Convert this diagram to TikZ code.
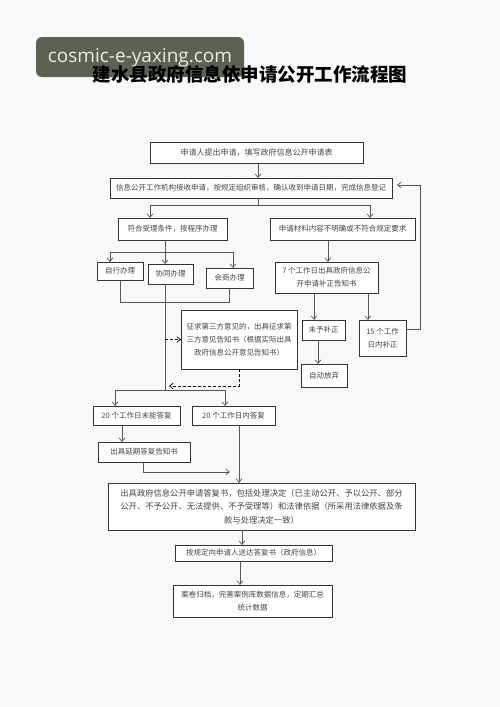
\documentclass[tikz,border=0pt]{standalone}
\usepackage{fontspec}
\newfontfamily\cjk{Noto Sans CJK SC}
\newfontfamily\wmfont{Open Sans}
\usetikzlibrary{arrows.meta}

\definecolor{pagebg}{HTML}{F6F8F9}
\definecolor{boxline}{HTML}{333333}
\definecolor{conline}{HTML}{555555}
\definecolor{boxtext}{HTML}{444444}
\definecolor{wmbg}{HTML}{5A6352}
\definecolor{wmtext}{HTML}{EEEBDD}

\tikzset{
  stage/.style={draw=boxline, line width=1pt, fill=white, text=boxtext,
    font=\cjk\fontsize{7.5}{13}\selectfont, align=center, inner sep=0pt, outer sep=0pt},
  link/.style={draw=conline, line width=0.7pt},
  arr/.style={link, -{Straight Barb[length=3.5pt,width=5.5pt]}},
  darr/.style={arr, draw=black, densely dashed}
}

\begin{document}
\begin{tikzpicture}[x=1pt,y=-1pt]

  % page
  \fill[pagebg] (0,0) rectangle (500,707);
  \useasboundingbox (0,0) rectangle (500,707);

  % Title and watermark
  \fill[wmbg, rounded corners=6pt] (36,37) rectangle (244,77);
  \node (title) at (250,74) {\cjk\bfseries\fontsize{18.5}{20}\selectfont 建水县政府信息依申请公开工作流程图};
  \node[text=wmtext] (mark) at (140,58) {\wmfont\fontsize{19}{21}\selectfont cosmic-e-yaxing.com};

  % Define nodes
  \node[stage, minimum width=213pt, minimum height=21pt, font=\cjk\fontsize{8}{13}\selectfont]
        (apply)   at (256.5,152.5) {申请人提出申请，填写政府信息公开申请表};
  \node[stage, minimum width=282pt, minimum height=20pt]
        (receive) at (251,188)     {信息公开工作机构接收申请，按规定组织审核，确认收到申请日期，完成信息登记};
  \node[stage, minimum width=109pt, minimum height=22pt]
        (accept)  at (172.5,229)   {符合受理条件，按程序办理};
  \node[stage, minimum width=145pt, minimum height=22pt]
        (unclear) at (342.5,229)   {申请材料内容不明确或不符合规定要求};
  \node[stage, minimum width=46pt, minimum height=18pt]
        (self)    at (120,271)     {自行办理};
  \node[stage, minimum width=45pt, minimum height=20pt]
        (coop)    at (170.5,274)   {协同办理};
  \node[stage, minimum width=47pt, minimum height=20pt]
        (consult) at (229.5,278)   {会商办理};
  \node[stage, minimum width=116pt, minimum height=59pt]
        (third)   at (239,339.5)   {征求第三方意见的，出具征求第\\三方意见告知书（根据实际出具\\政府信息公开意见告知书）};
  \node[stage, minimum width=103pt, minimum height=31pt]
        (notice7) at (326.5,277.5) {7 个工作日出具政府信息公\\开申请补正告知书};
  \node[stage, minimum width=43pt, minimum height=20pt]
        (nofix)   at (323.5,330)   {未予补正};
  \node[stage, minimum width=47pt, minimum height=36pt]
        (fix15)   at (382.5,338)   {15 个工作\\日内补正};
  \node[stage, minimum width=46pt, minimum height=23pt]
        (giveup)  at (324,375.5)   {自动放弃};
  \node[stage, minimum width=87pt, minimum height=19pt]
        (late)    at (136.5,415.5) {20 个工作日未能答复};
  \node[stage, minimum width=83pt, minimum height=19pt]
        (intime)  at (233.5,415.5) {20 个工作日内答复};
  \node[stage, minimum width=92pt, minimum height=20pt]
        (extend)  at (144,452)     {出具延期答复告知书};
  \node[stage, minimum width=307pt, minimum height=47pt, font=\cjk\fontsize{8.3}{13.5}\selectfont]
        (reply)   at (261.5,506.5) {出具政府信息公开申请答复书，包括处理决定（已主动公开、予以公开、部分\\公开、不予公开、无法提供、不予受理等）和法律依据（所采用法律依据及条\\款与处理决定一致）};
  \node[stage, minimum width=157pt, minimum height=16pt]
        (deliver) at (253.5,553)   {按规定向申请人送达答复书（政府信息）};
  \node[stage, minimum width=159pt, minimum height=32pt]
        (archive) at (252.5,601)   {案卷归档，完善案例库数据信息，定期汇总\\统计数据};

  % Junctions
  \coordinate (split1) at (258,205);
  \coordinate (split1l) at (150,205);
  \coordinate (split1r) at (370,205);
  \coordinate (split2) at (165,252);
  \coordinate (split2l) at (110,252);
  \coordinate (split2r) at (233,252);
  \coordinate (join1) at (120,302);
  \coordinate (trunk) at (165,390);
  \coordinate (split3l) at (115,390);
  \coordinate (split3r) at (225,390);
  \coordinate (back) at (169,386);
  \coordinate (merge) at (143,472);
  \coordinate (mergeend) at (230,472);
  \coordinate (loop) at (420,329);

  % Connect the nodes
  \draw[arr] (apply.south -| split1) -- (split1 |- receive.north);
  \draw[link] (split1 |- receive.south) -- (split1);
  \draw[link] (split1l) -- (split1r);
  \draw[arr] (split1l) -- (split1l |- accept.north);
  \draw[arr] (split1r) -- (split1r |- unclear.north);

  \draw[link] (split2 |- accept.south) -- (split2);
  \draw[link] (split2l) -- (split2r);
  \draw[arr] (split2l) -- (split2l |- self.north);
  \draw[arr] (split2) -- (split2 |- coop.north);
  \draw[arr] (split2r) -- (split2r |- consult.north);
  \draw[link] (join1 |- self.south) -- (join1) -| (consult.south);

  \draw[link] (split2 |- coop.south) -- (trunk);
  \draw[darr] (trunk |- third.west) -- (third.west);
  \draw[darr] (third.south) |- (back);
  \draw[link] (split3l) -- (split3r);
  \draw[arr] (split3l) -- (split3l |- late.north);
  \draw[arr] (split3r) -- (split3r |- intime.north);

  \draw[arr] (late.south -| 122,0) -- (extend.north -| 122,0);
  \draw[arr] (merge |- extend.south) -- (merge) -- (mergeend);
  \draw[arr] (intime.south -| 239,0) -- (reply.north -| 239,0);
  \draw[arr] (reply.south -| 242,0) -- (deliver.north -| 242,0);
  \draw[arr] (deliver.south -| 240,0) -- (archive.north -| 240,0);

  \draw[arr] (unclear.south -| 328,0) -- (notice7.north -| 328,0);
  \draw[arr] (notice7.south -| 314,0) -- (nofix.north -| 314,0);
  \draw[arr] (notice7.south -| 368,0) -- (fix15.north -| 368,0);
  \draw[arr] (nofix.south -| 318,0) -- (giveup.north -| 318,0);
  \draw[arr, shorten >=5pt] (fix15.east |- loop) -- (loop) |- (receive.east |- 0,185);

\end{tikzpicture}
\end{document}
